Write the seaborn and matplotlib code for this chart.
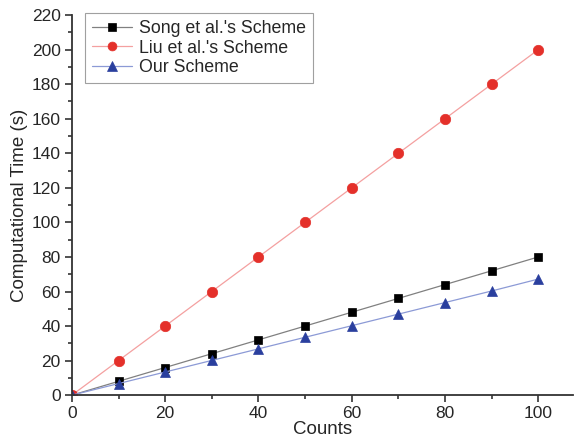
import matplotlib
matplotlib.use("Agg")
import matplotlib.pyplot as plt
from matplotlib.ticker import MultipleLocator
import seaborn as sns
import pandas as pd

counts = [0, 10, 20, 30, 40, 50, 60, 70, 80, 90, 100]
song_times = [0, 8, 16, 24, 32, 40, 48, 56, 64, 72, 80]
liu_times = [0, 20, 40, 60, 80, 100, 120, 140, 160, 180, 200]
our_times = [0, 6.7, 13.4, 20.1, 26.8, 33.5, 40.2, 46.9, 53.6, 60.3, 67.2]

series_names = ["Song et al.'s Scheme", "Liu et al.'s Scheme", "Our Scheme"]

sns.set_style("ticks")
plt.rcParams['font.family'] = ['Liberation Sans', 'DejaVu Sans']

fig = plt.figure(figsize=(5.75, 4.44), dpi=100)
ax = fig.add_axes([0.125, 0.110, 0.872, 0.856])

styles = [
    (song_times, "#808080", "s", "black", 6.2),
    (liu_times, "#f4a0a0", "o", "#e4302a", 7.5),
    (our_times, "#8c9ad6", "^", "#2a3f9e", 7.8),
]

for name, (vals, lc, mk, mc, ms) in zip(series_names, styles):
    df = pd.DataFrame({"Counts": counts, "Time": vals})
    sns.lineplot(data=df, x="Counts", y="Time", ax=ax, color=lc, lw=0.9,
                 marker=mk, markersize=ms, markerfacecolor=mc,
                 markeredgecolor=mc, markeredgewidth=0.5, label=name)

ax.set_xlim(0, 107.5)
ax.set_ylim(0, 220)
ax.xaxis.set_major_locator(MultipleLocator(20))
ax.xaxis.set_minor_locator(MultipleLocator(10))
ax.yaxis.set_major_locator(MultipleLocator(20))
ax.yaxis.set_minor_locator(MultipleLocator(10))
ax.tick_params(which="major", direction="out", length=5, width=1.2,
               labelsize=12.5, color="#333333", pad=3)
ax.tick_params(which="minor", direction="out", length=3, width=1.2,
               color="#333333")
for side in ["top", "right"]:
    ax.spines[side].set_visible(False)
for side in ["left", "bottom"]:
    ax.spines[side].set_linewidth(1.3)
    ax.spines[side].set_color("#333333")

ax.set_xlabel("Counts", fontsize=13.5, labelpad=0)
ax.set_ylabel("Computational Time (s)", fontsize=13.5, labelpad=3)

leg = ax.legend(loc="upper left", bbox_to_anchor=(0.026, 1.006), borderaxespad=0,
                fontsize=12.8, frameon=True, fancybox=False, edgecolor="#888888",
                handlelength=2.25, handletextpad=0.4, borderpad=0.4,
                labelspacing=0.15, markerscale=0.85)
leg.get_frame().set_linewidth(0.8)

fig.savefig("out.png", dpi=100)
